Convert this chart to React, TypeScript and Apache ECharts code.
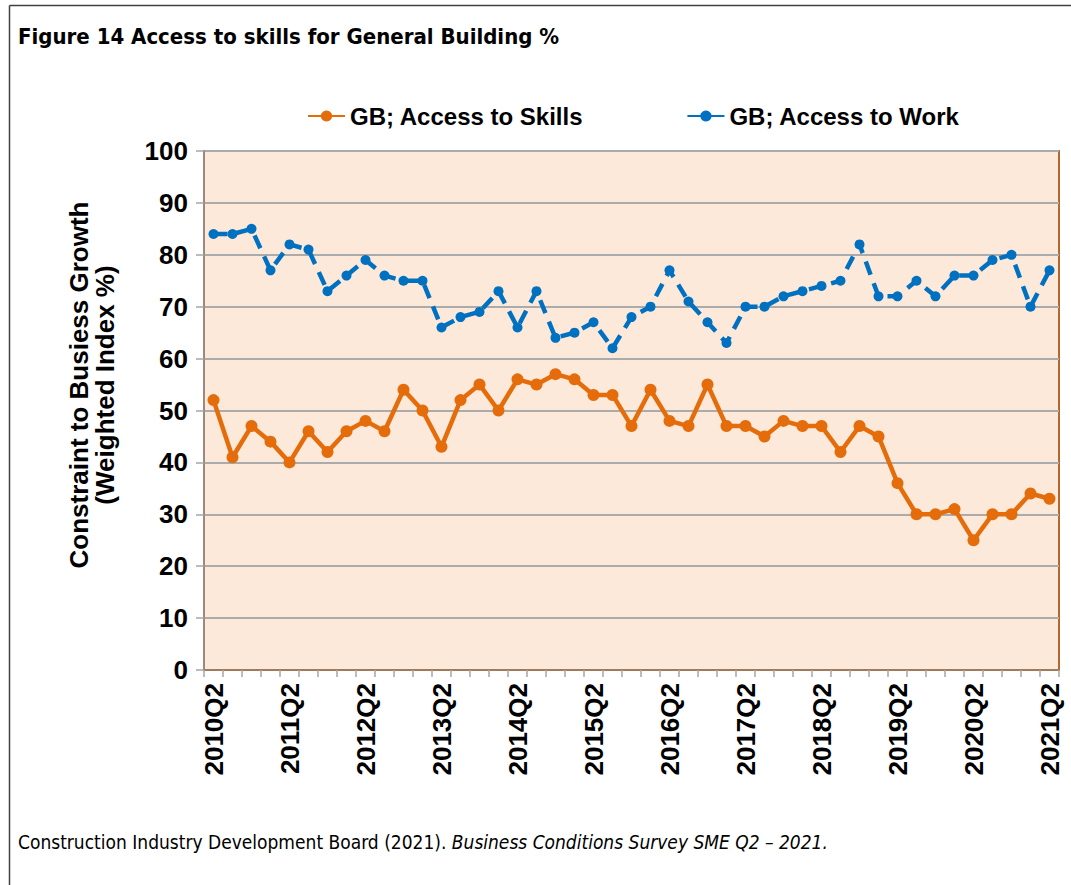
import React, { useEffect, useRef } from "react";
import * as echarts from "echarts";

const quarters: string[] = [
  "2010Q2", "2010Q3", "2010Q4",
  "2011Q1", "2011Q2", "2011Q3", "2011Q4",
  "2012Q1", "2012Q2", "2012Q3", "2012Q4",
  "2013Q1", "2013Q2", "2013Q3", "2013Q4",
  "2014Q1", "2014Q2", "2014Q3", "2014Q4",
  "2015Q1", "2015Q2", "2015Q3", "2015Q4",
  "2016Q1", "2016Q2", "2016Q3", "2016Q4",
  "2017Q1", "2017Q2", "2017Q3", "2017Q4",
  "2018Q1", "2018Q2", "2018Q3", "2018Q4",
  "2019Q1", "2019Q2", "2019Q3", "2019Q4",
  "2020Q1", "2020Q2", "2020Q3", "2020Q4",
  "2021Q1", "2021Q2",
];

const accessToSkills: number[] = [
  52, 41, 47,
  44, 40, 46, 42,
  46, 48, 46, 54,
  50, 43, 52, 55,
  50, 56, 55, 57,
  56, 53, 53, 47,
  54, 48, 47, 55,
  47, 47, 45, 48,
  47, 47, 42, 47,
  45, 36, 30, 30,
  31, 25, 30, 30,
  34, 33,
];

const accessToWork: number[] = [
  84, 84, 85,
  77, 82, 81, 73,
  76, 79, 76, 75,
  75, 66, 68, 69,
  73, 66, 73, 64,
  65, 67, 62, 68,
  70, 77, 71, 67,
  63, 70, 70, 72,
  73, 74, 75, 82,
  72, 72, 75, 72,
  76, 76, 79, 80,
  70, 77,
];

const seriesNames = ["GB; Access to Skills", "GB; Access to Work"];
const titleText = "Figure 14 Access to skills for General Building %";
const yAxisTitle = "Constraint to Busiess Growth\n(Weighted Index %)";
const sourceNormal = "Construction Industry Development Board (2021). ";
const sourceItalic = "Business Conditions Survey SME Q2 \u2013 2021.";

const ORANGE = "#E46C0A";
const BLUE = "#0070C0";

export default function App() {
  const ref = useRef<HTMLDivElement>(null);

  useEffect(() => {
    document.body.style.margin = "0";
    const chart = echarts.init(ref.current!, null, { renderer: "svg" });
    const arial = "Liberation Sans, Arial, sans-serif";
    const narrow = "Liberation Sans Narrow, DejaVu Sans Condensed, sans-serif";
    chart.setOption({
      animation: false,
      backgroundColor: "#ffffff",
      grid: {
        left: 204,
        top: 151,
        width: 855,
        height: 519,
        show: true,
        backgroundColor: "#FDE9D9",
        borderColor: "#B0692F",
        borderWidth: 2,
        containLabel: false,
      },
      legend: {
        left: 302,
        top: 99,
        itemWidth: 37,
        itemHeight: 14,
        itemGap: 103,
        data: seriesNames,
        textStyle: {
          fontFamily: arial,
          fontWeight: "bold",
          fontSize: 24,
          color: "#000000",
        },
      },
      xAxis: {
        type: "category",
        data: quarters,
        boundaryGap: true,
        axisLine: { lineStyle: { color: "#A07A5A", width: 2 } },
        axisTick: {
          show: true,
          interval: 0,
          length: 7,
          lineStyle: { color: "#A6A6A6", width: 1.5 },
        },
        axisLabel: {
          interval: 3,
          rotate: 90,
          margin: 13,
          fontFamily: arial,
          fontWeight: "bold",
          fontSize: 26,
          color: "#000000",
        },
        splitLine: { show: false },
      },
      yAxis: {
        type: "value",
        min: 0,
        max: 100,
        interval: 10,
        axisLine: { show: true, lineStyle: { color: "#9A8A80", width: 2 } },
        axisTick: {
          show: true,
          length: 8,
          lineStyle: { color: "#A6A6A6", width: 1.5 },
        },
        axisLabel: {
          margin: 16,
          fontFamily: arial,
          fontWeight: "bold",
          fontSize: 26,
          color: "#000000",
        },
        splitLine: { show: true, lineStyle: { color: "#ABABAB", width: 2 } },
      },
      series: [
        {
          name: seriesNames[0],
          type: "line",
          data: accessToSkills,
          symbol: "circle",
          symbolSize: 12,
          itemStyle: { color: ORANGE },
          lineStyle: { color: ORANGE, width: 4.5 },
          z: 3,
        },
        {
          name: seriesNames[1],
          type: "line",
          data: accessToWork,
          symbol: "circle",
          symbolSize: 10,
          itemStyle: { color: BLUE },
          lineStyle: { color: BLUE, width: 4.5, type: [14, 9] },
          z: 4,
        },
      ],
      graphic: [
        {
          type: "line",
          shape: { x1: 9.5, y1: 5.5, x2: 9.5, y2: 885 },
          style: { stroke: "#404040", lineWidth: 1.5 },
        },
        {
          type: "line",
          shape: { x1: 9.5, y1: 5.5, x2: 1071, y2: 5.5 },
          style: { stroke: "#404040", lineWidth: 1.5 },
        },
        {
          type: "text",
          left: 18,
          top: 25,
          style: {
            text: titleText,
            font: `bold 22px ${narrow}`,
            fill: "#000000",
          },
        },
        {
          type: "text",
          x: 92,
          y: 385,
          rotation: Math.PI / 2,
          style: {
            text: yAxisTitle,
            font: `bold 26px ${arial}`,
            fill: "#000000",
            align: "center",
            verticalAlign: "middle",
            lineHeight: 26,
          },
        },
        {
          type: "text",
          left: 18,
          top: 832,
          style: {
            text: `{n|${sourceNormal}}{i|${sourceItalic}}`,
            rich: {
              n: { font: `19px ${narrow}`, fill: "#000000" },
              i: { font: `italic 19px ${narrow}`, fill: "#000000" },
            },
          },
        },
      ],
    });
    return () => chart.dispose();
  }, []);

  return <div ref={ref} style={{ width: 1071, height: 885 }} />;
}
